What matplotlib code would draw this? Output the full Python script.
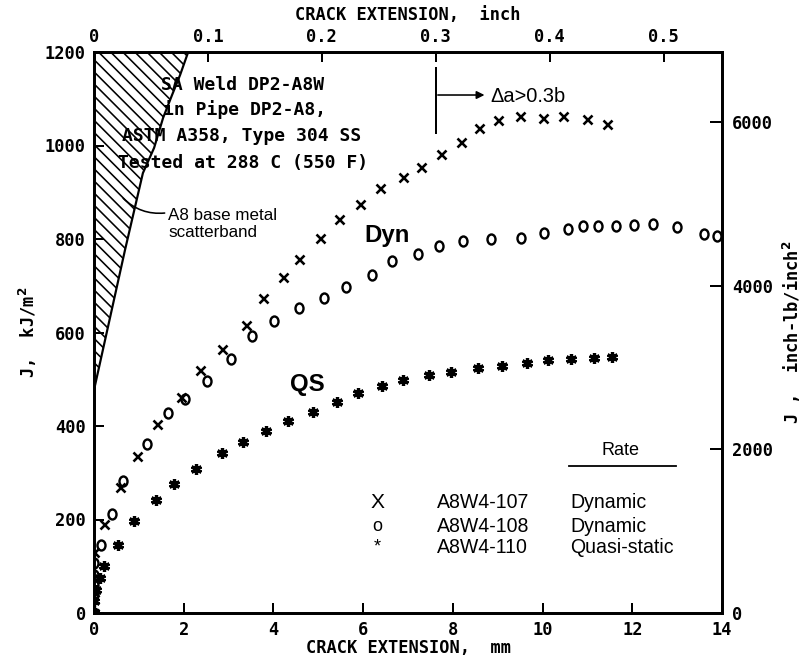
import matplotlib
matplotlib.use("Agg")
import matplotlib.pyplot as plt
import numpy as np
from matplotlib.path import Path
from matplotlib.markers import MarkerStyle
from matplotlib.transforms import Affine2D
from matplotlib.patches import Polygon

# J (kJ/m^2) vs crack extension (mm)
x107 = [0, 0, 0, 0.22, 0.58, 0.96, 1.40, 1.94, 2.36, 2.85, 3.39, 3.77, 4.21, 4.57,
        5.04, 5.46, 5.93, 6.38, 6.89, 7.29, 7.74, 8.18, 8.58, 9.00, 9.50, 10.00,
        10.45, 10.99, 11.44]
j107 = [0, 30, 130, 190, 270, 336, 404, 462, 520, 565, 616, 674, 719, 757,
        802, 843, 875, 909, 933, 954, 982, 1008, 1037, 1054, 1063, 1058,
        1063, 1057, 1046]

x108 = [0, 0, 0, 0, 0, 0.16, 0.40, 0.65, 1.18, 1.65, 2.03, 2.52, 3.05, 3.52, 4.01,
        4.57, 5.13, 5.62, 6.20, 6.64, 7.22, 7.69, 8.23, 8.85, 9.52, 10.03, 10.57,
        10.90, 11.24, 11.64, 12.04, 12.46, 13.00, 13.60, 13.89]
j108 = [0, 40, 60, 81, 107, 145, 212, 282, 361, 428, 458, 496, 543, 592, 625,
        652, 674, 697, 723, 753, 768, 785, 796, 800, 802, 813, 821,
        828, 828, 828, 830, 832, 826, 811, 806]

x110 = [0, 0, 0.05, 0.13, 0.22, 0.53, 0.89, 1.38, 1.78, 2.27, 2.85, 3.32, 3.83,
        4.32, 4.88, 5.42, 5.89, 6.42, 6.89, 7.47, 7.96, 8.56, 9.10, 9.65, 10.12,
        10.63, 11.15, 11.55]
j110 = [0, 25, 50, 75, 100, 145, 197, 242, 276, 308, 342, 366, 389,
        411, 430, 451, 470, 486, 498, 509, 516, 524, 528, 535, 541,
        543, 545, 548]

# A8 base metal scatterband boundary (mm, kJ/m^2)
band_x = [0, 0.69, 1.09, 1.34, 1.54, 1.74, 1.92, 2.10, 0]
band_j = [477, 776, 941, 995, 1059, 1108, 1151, 1200, 1200]

specimens = ["A8W4-107", "A8W4-108", "A8W4-110"]
rates = ["Dynamic", "Dynamic", "Quasi-static"]
legend_marks = ["X", "o", "*"]

MM_PER_INCH = 25.4
KJ_TO_INLB = 5.7101

mono = "DejaVu Sans Mono"
sans = "Liberation Sans"

fig = plt.figure(figsize=(805 / 72, 663 / 72), dpi=72)
ax = fig.add_axes([94 / 805, 1 - 613 / 663, 628 / 805, 561 / 663])

ax.set_xlim(0, 14)
ax.set_ylim(0, 1200)

# scatterband: hatch lines clipped to the band outline
band = Polygon(np.column_stack([band_x, band_j]), closed=True,
               facecolor="none", edgecolor="none")
ax.add_patch(band)
slope = 96.0   # kJ/m^2 per mm gives ~45 deg on screen
for xt in np.arange(-8.0, 2.2, 0.27):
    hl, = ax.plot([xt, xt + 8.0], [1200, 1200 - slope * 8.0], color="black", lw=1.6)
    hl.set_clip_path(band)
ax.plot(band_x[:8], band_j[:8], color="black", lw=2.2)

oval = MarkerStyle(Path.unit_circle().transformed(Affine2D().scale(0.8, 1.0)))
ax.plot(x107, j107, ls="none", marker="x", ms=9, mew=2.6, color="black")
ax.plot(x108, j108, ls="none", marker=oval, ms=10, mew=2.4, mfc="none", color="black")
ax.plot(x110, j110, ls="none", marker=(6, 2, 0), ms=11, mew=3.2, color="black")

# ticks
tick_fs = 17
for side in ["left", "right", "top", "bottom"]:
    ax.spines[side].set_linewidth(2.5)
ax.set_xticks(range(0, 15, 2))
ax.set_yticks(range(0, 1201, 200))
ax.tick_params(direction="in", length=10, width=2, labelsize=tick_fs, pad=8)
for lab in ax.get_xticklabels() + ax.get_yticklabels():
    lab.set_fontfamily(mono)
    lab.set_fontweight("bold")

axt = ax.twiny()
axt.set_xlim(0, 14 / MM_PER_INCH)
axt.set_xticks([0, 0.1, 0.2, 0.3, 0.4, 0.5])
axt.set_xticklabels(["0", "0.1", "0.2", "0.3", "0.4", "0.5"])
axt.tick_params(direction="in", length=10, width=2, labelsize=tick_fs, pad=6)
for lab in axt.get_xticklabels():
    lab.set_fontfamily(mono)
    lab.set_fontweight("bold")

axr = ax.twinx()
axr.set_ylim(0, 1200 * KJ_TO_INLB)
axr.set_yticks([0, 2000, 4000, 6000])
axr.tick_params(direction="in", length=12, width=2, labelsize=tick_fs, pad=10)
for lab in axr.get_yticklabels():
    lab.set_fontfamily(mono)
    lab.set_fontweight("bold")
for a in (axt, axr):
    for side in ["left", "right", "top", "bottom"]:
        a.spines[side].set_linewidth(2.5)

# axis titles
lbl = dict(family=mono, weight="bold", fontsize=17, ha="center", va="center")
ax.text(0.5, -0.062, "CRACK EXTENSION,  mm", transform=ax.transAxes, **lbl)
ax.text(0.5, 1.066, "CRACK EXTENSION,  inch", transform=ax.transAxes, **lbl)
ax.text(-0.105, 0.5, "J,  kJ/m$^\\mathbf{2}$", transform=ax.transAxes, rotation=90, **lbl)
ax.text(1.112, 0.5, "J ,  inch-lb/inch$^\\mathbf{2}$", transform=ax.transAxes, rotation=90, **lbl)

# annotations
note = dict(family=mono, weight="bold", fontsize=18, ha="left", va="center")
ax.text(1.49, 1129, "SA Weld DP2-A8W", **note)
ax.text(1.54, 1078, "in Pipe DP2-A8,", **note)
ax.text(0.62, 1020, "ASTM A358, Type 304 SS", **note)
ax.text(0.53, 963, "Tested at 288 C (550 F)", **note)

ax.text(1.65, 851, "A8 base metal", family=sans, fontsize=17, va="center")
ax.text(1.65, 813, "scatterband", family=sans, fontsize=17, va="center")
ax.annotate("", xy=(0.62, 890), xytext=(1.62, 856),
            arrowprops=dict(arrowstyle="-", lw=1.6, color="black",
                            connectionstyle="arc3,rad=-0.25"))

ax.text(6.53, 808, "Dyn", family=sans, weight="bold", fontsize=24, ha="center", va="center")
ax.text(4.75, 488, "QS", family=sans, weight="bold", fontsize=24, ha="center", va="center")

ax.plot([7.62, 7.62], [1027, 1166], color="black", lw=2)
ax.annotate("", xy=(8.75, 1108), xytext=(7.62, 1108),
            arrowprops=dict(arrowstyle="-|>", lw=1.6, color="black", mutation_scale=16))
ax.text(8.83, 1104, "\u0394a>0.3b", family=sans, fontsize=20, ha="left", va="center")

# legend block
ax.text(11.73, 330, "Rate", family=sans, fontsize=18, ha="center", va="bottom")
ax.plot([10.59, 12.97], [314, 314], color="black", lw=1.8)
for i in range(3):
    jy = [237, 186, 141][i]
    ax.text(6.31, jy, legend_marks[i], family=sans, fontsize=[21, 18, 18][i],
            ha="center", va="center")
    ax.text(7.65, jy, specimens[i], family=sans, fontsize=19.5, ha="left", va="center")
    ax.text(10.61, jy, rates[i], family=sans, fontsize=19.5, ha="left", va="center")

fig.savefig("out.png", dpi=72, facecolor="white")
